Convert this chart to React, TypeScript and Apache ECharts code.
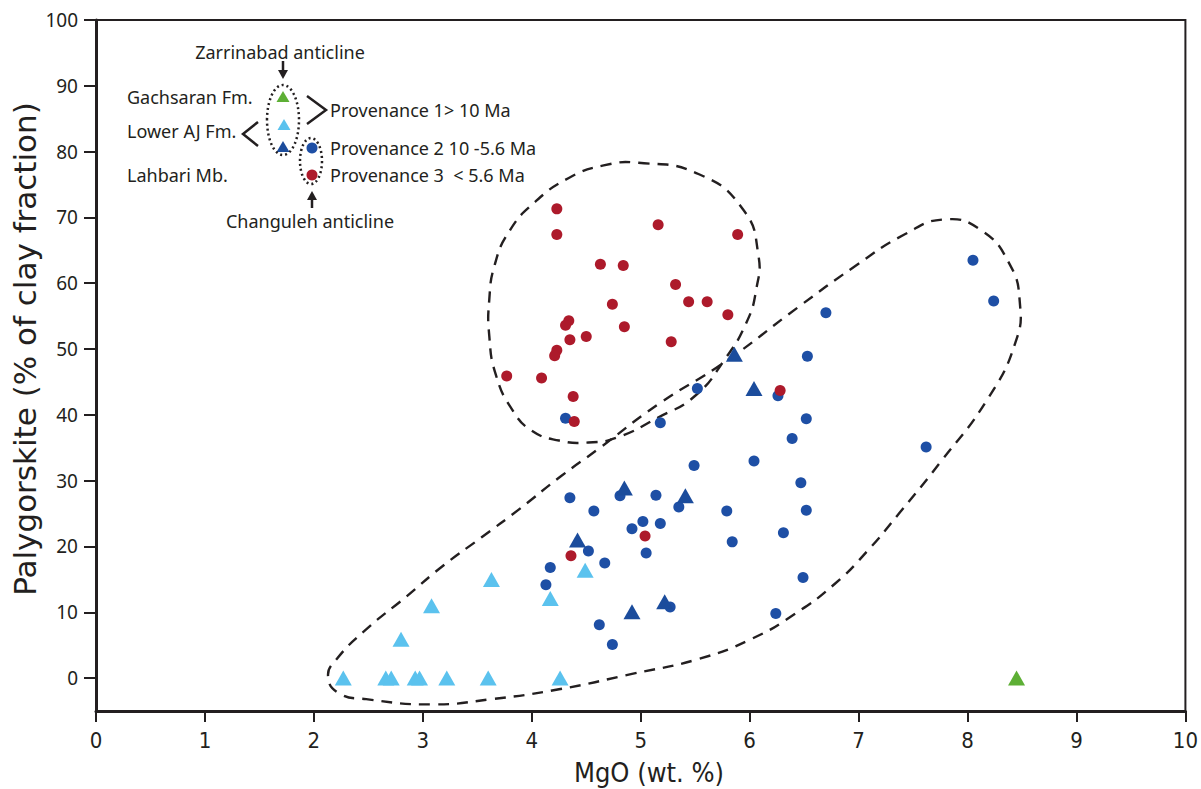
import React, { useEffect, useRef } from "react";
import * as echarts from "echarts";

// ---- Data (MgO wt.%, Palygorskite % of clay fraction) ----
const provenance3Red: [number, number][] = [
  [4.23, 71.3], [4.23, 67.4], [5.16, 68.9], [5.89, 67.4], [4.63, 62.9], [4.84, 62.7],
  [5.32, 59.8], [4.74, 56.8], [5.44, 57.2], [5.61, 57.2], [5.80, 55.2], [4.34, 54.3],
  [4.31, 53.6], [4.85, 53.4], [4.35, 51.4], [4.50, 51.9], [5.28, 51.1], [4.23, 49.8],
  [4.21, 49.0], [3.77, 45.9], [4.09, 45.6], [4.38, 42.8], [4.39, 39.0], [6.28, 43.7],
  [4.36, 18.6], [5.04, 21.6],
];
const provenance2Blue: [number, number][] = [
  [4.31, 39.5], [5.52, 44.0], [5.18, 38.8], [4.35, 27.4], [4.57, 25.4], [4.81, 27.7],
  [5.14, 27.8], [5.49, 32.3], [5.35, 26.0], [5.02, 23.8], [5.18, 23.5], [4.92, 22.7],
  [5.79, 25.4], [5.84, 20.7], [4.52, 19.3], [4.67, 17.5], [5.05, 19.0], [4.17, 16.8],
  [4.13, 14.2], [5.27, 10.8], [4.62, 8.1], [4.74, 5.1], [8.05, 63.5], [8.24, 57.3],
  [6.70, 55.5], [6.53, 48.9], [6.26, 42.9], [6.52, 39.4], [6.39, 36.4], [7.62, 35.1],
  [6.04, 33.0], [6.47, 29.7], [6.52, 25.5], [6.31, 22.1], [6.49, 15.3], [6.24, 9.8],
];
const lahbariTriangles: [number, number][] = [
  [5.86, 49.2], [6.04, 44.0], [4.85, 28.9], [5.41, 27.7], [4.42, 21.0], [4.92, 10.1], [5.22, 11.6],
];
const lowerAJTriangles: [number, number][] = [
  [3.63, 15.0], [3.08, 11.0], [4.17, 12.1], [4.49, 16.4], [2.80, 5.9],
  [2.27, 0], [2.66, 0], [2.71, 0], [2.93, 0], [2.97, 0], [3.22, 0], [3.60, 0], [4.26, 0],
];
const gachsaranTriangles: [number, number][] = [[8.45, 0]];

// dashed outlines (data coordinates)
const redOutline: [number, number][] = [
  [4.98, 78.3], [5.53, 76.6], [5.94, 71.2], [6.08, 64.3], [6.06, 59.0], [5.97, 54.0],
  [5.77, 48.4], [5.50, 42.9], [5.16, 39.6], [4.79, 36.6], [4.52, 35.8], [4.25, 36.1],
  [4.00, 37.6], [3.82, 40.8], [3.67, 46.1], [3.61, 52.0], [3.61, 57.5], [3.66, 62.8],
  [3.79, 67.8], [4.02, 72.2], [4.34, 76.0], [4.66, 77.9],
];
const blueOutline: [number, number][] = [
  [2.13, 0.3], [2.21, 2.9], [2.48, 7.4], [2.85, 12.4], [3.18, 17.0], [3.54, 21.4],
  [3.88, 25.6], [4.27, 30.7], [4.61, 34.8], [5.16, 41.6], [5.77, 48.0], [6.44, 56.3],
  [6.96, 62.5], [7.42, 67.4], [7.79, 69.7], [8.12, 68.1], [8.38, 63.1], [8.48, 57.1],
  [8.44, 51.0], [8.18, 42.3], [7.75, 32.8], [7.38, 25.2], [7.08, 19.3], [6.78, 14.3],
  [6.41, 9.7], [6.01, 5.9], [5.53, 2.9], [4.91, 0.6], [4.25, -1.7], [3.63, -3.2],
  [3.08, -4.0], [2.48, -3.2], [2.23, -2.3],
];

const xTicks = [0, 1, 2, 3, 4, 5, 6, 7, 8, 9, 10];
const yTicks = [0, 10, 20, 30, 40, 50, 60, 70, 80, 90, 100];

const INK = "#231f20";
const RED = "#ad1a2b";
const BLUE = "#1e4fa5";
const DARKBLUE = "#1b4c9c";
const LIGHTBLUE = "#5bc2ee";
const GREEN = "#5daf35";
const FONT = '"Noto Sans", "Open Sans", sans-serif';
const WIDE = '"DejaVu Sans", "Noto Sans", sans-serif';
const NARROW = '"Liberation Sans Narrow", "DejaVu Sans Condensed", "Noto Sans", sans-serif';

function txt(text: string, x: number, y: number, align = "left", size = 18, font = FONT) {
  return {
    type: "text",
    x,
    y,
    silent: true,
    style: { text, fill: INK, font: `${size}px ${font}`, align, verticalAlign: "middle" },
  };
}
function tri(cx: number, cy: number, color: string) {
  return {
    type: "polygon",
    silent: true,
    shape: { points: [[cx, cy - 6], [cx + 6.5, cy + 5], [cx - 6.5, cy + 5]] },
    style: { fill: color },
  };
}

export default function App() {
  const ref = useRef<HTMLDivElement>(null);
  useEffect(() => {
    if (!ref.current) return;
    const chart = echarts.init(ref.current, undefined, { renderer: "svg" });
    const lineStyle = { stroke: INK, lineWidth: 2.5 };
    const option: any = {
      animation: false,
      backgroundColor: "#ffffff",
      grid: {
        left: 96,
        right: 11,
        top: 20,
        bottom: 78,
        show: true,
        borderColor: INK,
        borderWidth: 2,
        backgroundColor: "transparent",
      },
      xAxis: {
        type: "value",
        min: 0,
        max: 10,
        interval: 1,
        axisLine: { show: true, onZero: false, lineStyle: { color: INK, width: 3 } },
        axisTick: { show: true, length: 11, lineStyle: { color: INK, width: 2 } },
        axisLabel: {
          margin: 18,
          color: INK,
          fontSize: 22,
          fontFamily: NARROW,
          formatter: (v: number) => (xTicks.includes(v) ? String(v) : ""),
        },
        splitLine: { show: false },
      },
      yAxis: {
        type: "value",
        min: -5,
        max: 100,
        axisLine: { show: true, onZero: false, lineStyle: { color: INK, width: 3 } },
        axisTick: { show: true, length: 12, customValues: yTicks, lineStyle: { color: INK, width: 2 } },
        axisLabel: { margin: 18, color: INK, fontSize: 19, fontFamily: FONT, customValues: yTicks },
        splitLine: { show: false },
      },
      series: [
        {
          type: "custom",
          coordinateSystem: "cartesian2d",
          data: [[0, 0]],
          silent: true,
          z: 1,
          renderItem: (_p: any, api: any) => ({
            type: "group",
            children: [redOutline, blueOutline].map((o) => ({
              type: "polygon",
              shape: { points: o.map((pt) => api.coord(pt)), smooth: 0.5 },
              style: { fill: "none", stroke: INK, lineWidth: 2.4, lineDash: [11, 8] },
            })),
          }),
        },
        {
          name: "Provenance 2",
          type: "scatter",
          data: provenance2Blue,
          symbol: "circle",
          symbolSize: 11,
          itemStyle: { color: BLUE, opacity: 1 },
          z: 3,
        },
        {
          name: "Lower AJ Fm.",
          type: "scatter",
          data: lowerAJTriangles,
          symbol: "triangle",
          symbolSize: [17, 15],
          itemStyle: { color: LIGHTBLUE, opacity: 1 },
          z: 4,
        },
        {
          name: "Gachsaran Fm.",
          type: "scatter",
          data: gachsaranTriangles,
          symbol: "triangle",
          symbolSize: [17, 15],
          itemStyle: { color: GREEN, opacity: 1 },
          z: 4,
        },
        {
          name: "Lahbari Mb.",
          type: "scatter",
          data: lahbariTriangles,
          symbol: "triangle",
          symbolSize: [17, 15],
          itemStyle: { color: DARKBLUE, opacity: 1 },
          z: 4,
        },
        {
          name: "Provenance 3",
          type: "scatter",
          data: provenance3Red,
          symbol: "circle",
          symbolSize: 11,
          itemStyle: { color: RED, opacity: 1 },
          z: 5,
        },
      ],
      graphic: [
        {
          type: "text",
          x: 25,
          y: 349,
          rotation: Math.PI / 2,
          silent: true,
          style: {
            text: "Palygorskite (% of clay fraction)",
            fill: INK,
            font: `31px ${WIDE}`,
            align: "center",
            verticalAlign: "middle",
          },
        },
        txt("MgO (wt. %)", 649, 772, "center", 27, NARROW),
        // legend
        txt("Zarrinabad anticline", 280, 52, "center"),
        { type: "line", silent: true, shape: { x1: 283, y1: 61, x2: 283, y2: 72 }, style: lineStyle },
        { type: "polygon", silent: true, shape: { points: [[278, 70], [288, 70], [283, 79]] }, style: { fill: INK } },
        txt("Gachsaran Fm.", 127, 97),
        txt("Lower AJ Fm.", 127, 131),
        txt("Lahbari Mb.", 127, 175),
        { type: "polyline", silent: true, shape: { points: [[258, 122], [243, 134], [258, 146]] }, style: { ...lineStyle, fill: "none" } },
        { type: "polyline", silent: true, shape: { points: [[307, 96], [326, 110], [307, 124]] }, style: { ...lineStyle, fill: "none" } },
        tri(283, 97, GREEN),
        tri(284, 125, LIGHTBLUE),
        tri(283, 147, DARKBLUE),
        { type: "ellipse", silent: true, shape: { cx: 283, cy: 120, rx: 16, ry: 35 }, style: { fill: "none", stroke: INK, lineWidth: 2.5, lineDash: [2, 3] } },
        { type: "ellipse", silent: true, shape: { cx: 311, cy: 161, rx: 11, ry: 23 }, style: { fill: "none", stroke: INK, lineWidth: 2.5, lineDash: [2, 3] } },
        { type: "circle", silent: true, shape: { cx: 312, cy: 148, r: 5.5 }, style: { fill: BLUE } },
        { type: "circle", silent: true, shape: { cx: 312, cy: 175, r: 5.5 }, style: { fill: RED } },
        { type: "line", silent: true, shape: { x1: 312, y1: 198, x2: 312, y2: 208 }, style: lineStyle },
        { type: "polygon", silent: true, shape: { points: [[307, 200], [317, 200], [312, 191]] }, style: { fill: INK } },
        txt("Changuleh anticline", 310, 221, "center"),
        txt("Provenance 1> 10 Ma", 330, 110),
        txt("Provenance 2 10 -5.6 Ma", 330, 148),
        txt("Provenance 3  < 5.6 Ma", 330, 175),
      ],
    };
    chart.setOption(option);
    return () => chart.dispose();
  }, []);
  return <div ref={ref} style={{ position: "absolute", left: 0, top: 0, width: 1201, height: 789 }} />;
}
